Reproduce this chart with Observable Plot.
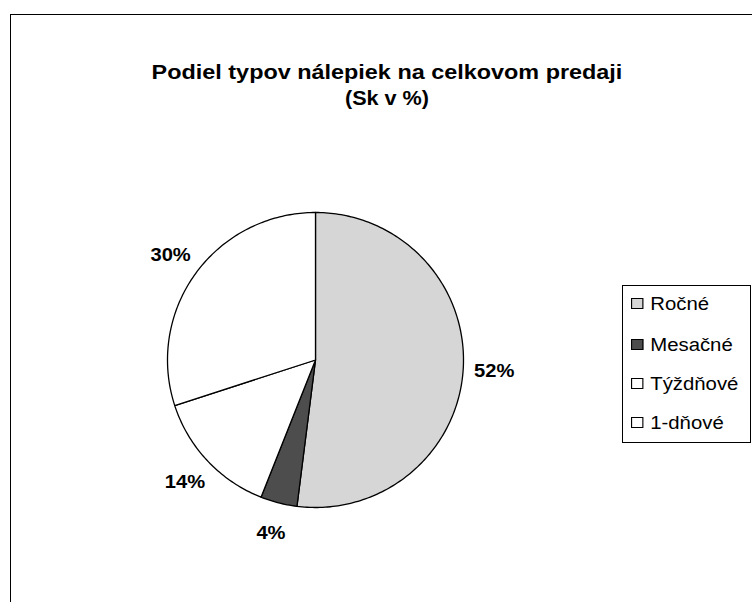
<!DOCTYPE html>
<html>
<head>
<meta charset="utf-8">
<script src="https://cdn.jsdelivr.net/npm/d3@7"></script>
<script src="https://cdn.jsdelivr.net/npm/@observablehq/plot@0.6"></script>
<style>
  html, body { margin: 0; padding: 0; background: #fff; }
  #wrap { position: relative; width: 752px; height: 602px; overflow: hidden; font-family: "Liberation Sans", Arial, sans-serif; color: #000; }
  #frame { position: absolute; left: 10px; top: 14px; width: 760px; height: 620px; border-left: 1.5px solid #000; border-top: 1.5px solid #000; }
  .title { position: absolute; left: 0; width: 774px; text-align: center; font-weight: bold; font-size: 20px; transform: scaleX(1.17); transform-origin: 387px 0; }
  #legend { position: absolute; left: 622px; top: 285px; width: 127px; height: 156px; border: 1px solid #000; background: #fff; }
  .item { position: absolute; left: 8px; font-size: 18px; line-height: 20px; white-space: nowrap; transform: scaleX(1.13); transform-origin: 0 0; }
  .sw { display: inline-block; width: 9px; height: 9px; border: 1px solid #000; margin-right: 6px; vertical-align: 1px; }
  #chart { position: absolute; left: 0; top: 0; }
</style>
</head>
<body>
<div id="wrap">
  <div id="chart"></div>
  <div id="frame"></div>
  <div class="title" style="top:61px">Podiel typov nálepiek na celkovom predaji</div>
  <div class="title" style="top:87px; transform: scaleX(1.08)">(Sk v %)</div>
  <div id="legend"></div>
</div>
<script>
const categories = ["Ročné", "Mesačné", "Týždňové", "1-dňové"];
const values = [52, 4, 14, 30];
const labels = ["52%", "4%", "14%", "30%"];
const colors = ["#d6d6d6", "#4d4d4d", "#ffffff", "#ffffff"];

// slice polygons (unit circle, clockwise from 12 o'clock)
const total = d3.sum(values);
const pts = [];
const lbl = [];
let acc = 0;
categories.forEach((c, i) => {
  const a0 = acc / total * 2 * Math.PI;
  acc += values[i];
  const a1 = acc / total * 2 * Math.PI;
  pts.push({name: c, x: 0, y: 0});
  const n = Math.max(2, Math.ceil((a1 - a0) / (Math.PI / 180)));
  for (let k = 0; k <= n; k++) {
    const a = a0 + (a1 - a0) * k / n;
    pts.push({name: c, x: Math.sin(a), y: Math.cos(a)});
  }
  pts.push({name: c, x: 0, y: 0});
  const am = (a0 + a1) / 2;
  const r = 1.21;
  lbl.push({text: labels[i], x: r * Math.sin(am), y: r * Math.cos(am)});
});

const plot = Plot.plot({
  width: 752,
  height: 602,
  marginLeft: 167,
  marginRight: 289,
  marginTop: 212,
  marginBottom: 95,
  x: {domain: [-1, 1], axis: null},
  y: {domain: [-1, 1], axis: null},
  color: {domain: categories, range: colors},
  style: {background: "transparent", overflow: "visible"},
  marks: [
    Plot.line(pts, {x: "x", y: "y", z: "name", fill: "name", stroke: "#000", strokeWidth: 1.3, strokeLinejoin: "round"}),
    Plot.text(lbl, {x: "x", y: "y", text: "text", fontSize: 18, fontWeight: "bold", fontFamily: "Liberation Sans, Arial, sans-serif", fill: "#000"})
  ]
});
// widen the label glyphs slightly, like the original's wide typeface
plot.querySelectorAll("text").forEach(t => {
  const tr = t.getAttribute("transform");
  if (tr) t.setAttribute("transform", tr + " scale(1.12,1)");
});
document.getElementById("chart").appendChild(plot);

const legend = document.getElementById("legend");
const tops = [8, 49, 88, 127];
categories.forEach((c, i) => {
  const d = document.createElement("div");
  d.className = "item";
  d.style.top = tops[i] + "px";
  d.innerHTML = `<span class="sw" style="background:${colors[i]}"></span>${c}`;
  legend.appendChild(d);
});
</script>
</body>
</html>
